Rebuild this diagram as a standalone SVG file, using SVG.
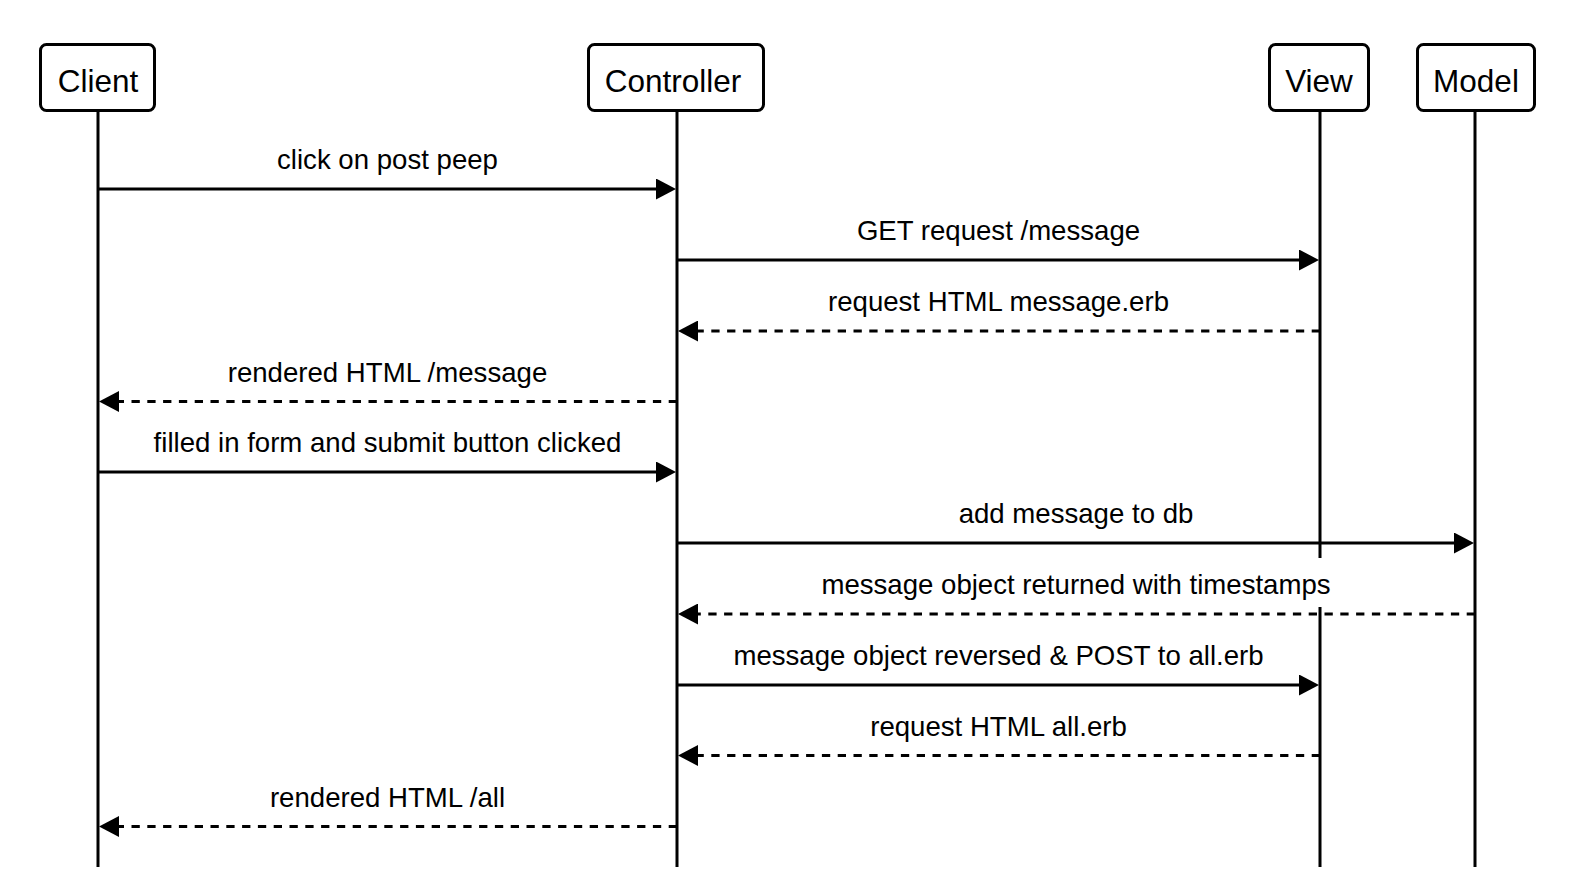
<svg xmlns="http://www.w3.org/2000/svg" width="1586" height="894" viewBox="0 0 1586 894">
<style>
.box{fill:#fff;stroke:#000;stroke-width:3}
.life{stroke:#000;stroke-width:3;fill:none}
.actor{font-family:"Liberation Sans",Arial,sans-serif;font-size:31.5px;text-anchor:middle;fill:#000}
.lbl{font-family:"Liberation Sans",Arial,sans-serif;font-size:27.6px;text-anchor:middle;fill:#000}
.msg{stroke:#000;stroke-width:3.2;fill:none}
.dash{stroke-dasharray:8.3 7.5}
</style>
<defs>
<marker id="ah" markerUnits="userSpaceOnUse" markerWidth="20" markerHeight="21" refX="9" refY="10.5" orient="auto" viewBox="0 0 20 21">
<path d="M0,0 L20,10.5 L0,21 z" fill="#000"/>
</marker>
</defs>
<rect width="1586" height="894" fill="#fff"/>
<g id="lifelines">
<line class="life" x1="98" y1="112" x2="98" y2="867"/>
<line class="life" x1="677" y1="112" x2="677" y2="867"/>
<line class="life" x1="1320" y1="112" x2="1320" y2="558"/>
<line class="life" x1="1320" y1="607" x2="1320" y2="867"/>
<line class="life" x1="1475" y1="112" x2="1475" y2="867"/>
</g>
<g id="client"><rect class="box" x="40.5" y="44.5" width="114" height="66" rx="6"/><text class="actor" x="98" y="92">Client</text></g>
<g id="controller"><rect class="box" x="588.5" y="44.5" width="175" height="66" rx="6"/><text class="actor" x="673" y="92">Controller</text></g>
<g id="view"><rect class="box" x="1269.5" y="44.5" width="99" height="66" rx="6"/><text class="actor" x="1319" y="92">View</text></g>
<g id="model"><rect class="box" x="1417.5" y="44.5" width="117" height="66" rx="6"/><text class="actor" x="1476" y="92">Model</text></g>
<g id="connectors">
<line class="msg" x1="98" y1="189" x2="665" y2="189" marker-end="url(#ah)"/>
<line class="msg" x1="677" y1="260" x2="1308" y2="260" marker-end="url(#ah)"/>
<line class="msg dash" x1="1320" y1="331" x2="689" y2="331" marker-end="url(#ah)"/>
<line class="msg dash" x1="677" y1="401.5" x2="110" y2="401.5" marker-end="url(#ah)"/>
<line class="msg" x1="98" y1="472" x2="665" y2="472" marker-end="url(#ah)"/>
<line class="msg" x1="677" y1="543" x2="1463" y2="543" marker-end="url(#ah)"/>
<line class="msg dash" x1="1475" y1="614" x2="689" y2="614" marker-end="url(#ah)"/>
<line class="msg" x1="677" y1="685" x2="1308" y2="685" marker-end="url(#ah)"/>
<line class="msg dash" x1="1320" y1="755.5" x2="689" y2="755.5" marker-end="url(#ah)"/>
<line class="msg dash" x1="677" y1="826.5" x2="110" y2="826.5" marker-end="url(#ah)"/>
</g>
<g id="labels">
<text class="lbl" x="387.5" y="169">click on post peep</text>
<text class="lbl" x="998.5" y="240">GET request /message</text>
<text class="lbl" x="998.5" y="311">request HTML message.erb</text>
<text class="lbl" x="387.5" y="381.5">rendered HTML /message</text>
<text class="lbl" x="387.5" y="452">filled in form and submit button clicked</text>
<text class="lbl" x="1076" y="523">add message to db</text>
<text class="lbl" x="1076" y="594">message object returned with timestamps</text>
<text class="lbl" x="998.5" y="665">message object reversed &amp; POST to all.erb</text>
<text class="lbl" x="998.5" y="735.5">request HTML all.erb</text>
<text class="lbl" x="387.5" y="806.5">rendered HTML /all</text>
</g>
</svg>
